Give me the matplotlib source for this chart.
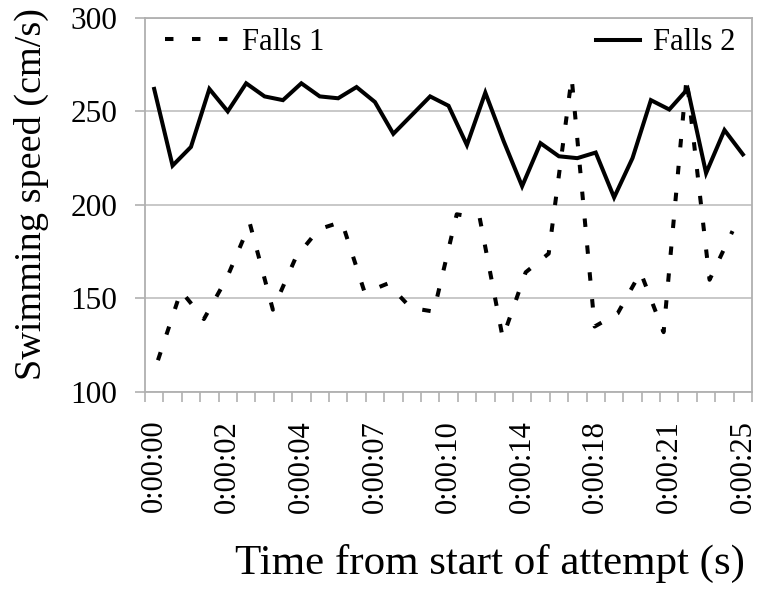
import numpy as np
import matplotlib
matplotlib.use('Agg')
import matplotlib.pyplot as plt

# swimming speed (cm/s) for each sample of the two falls
falls1 = [117, 154, 139, 161, 190, 144, 172, 187, 191, 153, 158, 145, 143,
          195, 193, 129, 164, 174, 268, 135, 142, 164, 132, 268, 160, 186]
falls2 = [262, 221, 231, 262, 250, 265, 258, 256, 265, 258, 257, 263, 255,
          238, 248, 258, 253, 232, 260, 234, 210, 233, 226, 225, 228, 204,
          225, 256, 251, 262, 217, 240, 227]

# time labels shown every 4th sample of falls 2
time_labels = ['0:00:00', '0:00:02', '0:00:04', '0:00:07', '0:00:10',
               '0:00:14', '0:00:18', '0:00:21', '0:00:25']
label_step = 4

plt.rcParams['font.family'] = ['Liberation Serif', 'DejaVu Serif']
grey = '#b0b0b0'

fig = plt.figure(figsize=(7.57, 5.94), dpi=100)
ax = fig.add_axes([0.1915, 0.340, 0.802, 0.630])

# falls 2 on the main category axis
x2 = np.arange(len(falls2))
line2, = ax.plot(x2, falls2, color='black', lw=2.9, solid_joinstyle='miter')
ax.set_xlim(-0.5, len(falls2) - 0.5)
ax.set_ylim(100, 300)

# falls 1 has its own samples, so it gets a hidden secondary x axis
ax2 = ax.twiny()
x1 = np.arange(len(falls1))
line1, = ax2.plot(x1, falls1, color='black', lw=2.9, linestyle=(0, (2.1, 4.6)))
ax2.set_xlim(-0.565, 25.85)
ax2.set_ylim(100, 300)
ax2.set_xticks([])
for s in ax2.spines.values():
    s.set_visible(False)

# grid and frame
ax.set_yticks([100, 150, 200, 250, 300])
ax.yaxis.grid(True, color='#c4c4c4', lw=1.3)
ax.set_axisbelow(True)
for s in ax.spines.values():
    s.set_color(grey)
    s.set_linewidth(1.3)

ax.set_xticks(np.arange(0, len(falls2), label_step))
ax.set_xticklabels(time_labels, rotation=90)
ax.set_xticks(np.arange(-0.5, len(falls2), 1), minor=True)
ax.tick_params(axis='x', which='major', length=0, pad=20, labelsize=22)
ax.tick_params(axis='x', which='minor', length=7, width=1.2, color=grey)
ax.tick_params(axis='y', length=7, width=1.2, color=grey, pad=13, labelsize=22.5)

ax.set_ylabel('Swimming speed (cm/s)', fontsize=27.5)
ax.yaxis.set_label_coords(-0.158, 0.53)
ax.set_xlabel('Time from start of attempt (s)', fontsize=31)
ax.xaxis.set_label_coords(0.568, -0.405)

# legends sit inside the top of the plot, one at each side
leg1 = ax.legend([line1], ['Falls 1'], loc='center left', bbox_to_anchor=(0.033, 0.935),
                 frameon=False, fontsize=22, handlelength=2.07, handletextpad=0.45,
                 borderpad=0, borderaxespad=0)
ax.add_artist(leg1)
ax.legend([line2], ['Falls 2'], loc='center left', bbox_to_anchor=(0.743, 0.933),
          frameon=False, fontsize=22, handlelength=1.45, handletextpad=0.42,
          borderpad=0, borderaxespad=0)

plt.savefig('out.png', dpi=100)
